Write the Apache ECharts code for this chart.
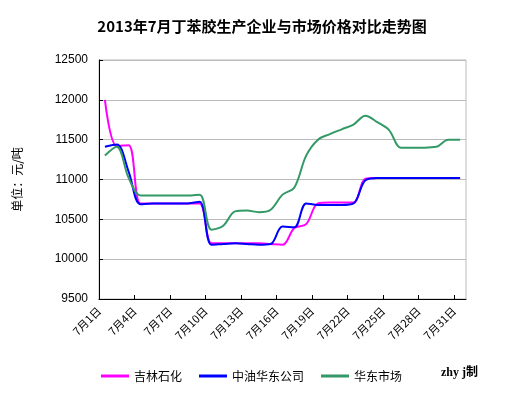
<!DOCTYPE html>
<html>
<head>
<meta charset="utf-8">
<script src="https://cdn.jsdelivr.net/npm/echarts@6/dist/echarts.min.js"></script>
<style>html,body{margin:0;padding:0;background:#fff}#c{width:524px;height:395px}</style>
</head>
<body>
<div id="c"></div>
<script>
var days = ['7月1日','7月2日','7月3日','7月4日','7月5日','7月6日','7月7日','7月8日','7月9日','7月10日',
  '7月11日','7月12日','7月13日','7月14日','7月15日','7月16日','7月17日','7月18日','7月19日','7月20日',
  '7月21日','7月22日','7月23日','7月24日','7月25日','7月26日','7月27日','7月28日','7月29日','7月30日','7月31日'];
var jilin = [12000,11420,11430,10700,10700,10700,10700,10700,10700,10200,
  10200,10200,10200,10200,10190,10180,10390,10440,10700,10710,
  10710,10710,11010,11020,11020,11020,11020,11020,11020,11020,11020];
var zhongyou = [11410,11440,11100,10690,10700,10700,10700,10700,10720,10180,
  10190,10200,10190,10180,10190,10410,10400,10700,10680,10680,
  10680,10700,10990,11020,11020,11020,11020,11020,11020,11020,11020];
var huadong = [11300,11410,11020,10800,10800,10800,10800,10800,10810,10370,
  10420,10600,10610,10590,10620,10810,10900,11300,11500,11570,
  11630,11690,11800,11720,11620,11400,11400,11400,11410,11500,11500];
var yTicks = [9500,10000,10500,11000,11500,12000,12500];
var seriesNames = ['吉林石化','中油华东公司','华东市场'];

function pts(arr){ return arr.map(function(v,i){ return [i+0.5, v]; }); }
var labelIdx = [];
for (var k = 0; k < days.length; k += 3) labelIdx.push(k);

var chart = echarts.init(document.getElementById('c'));
var cjk = '"Noto Sans CJK SC", "Liberation Sans", sans-serif';
chart.setOption({
  animation: false,
  backgroundColor: '#fff',
  title: {
    text: '2013年7月丁苯胶生产企业与市场价格对比走势图',
    left: 'center', top: 14,
    textStyle: { fontSize: 15, fontWeight: 'bold', color: '#000', fontFamily: cjk }
  },
  grid: { left: 99, right: 58, top: 60, bottom: 96, show: true, borderColor: '#bbb', borderWidth: 1 },
  legend: {
    left: 96, top: 365, itemGap: 17, itemWidth: 28, itemHeight: 3, icon: 'rect',
    textStyle: { fontSize: 12, color: '#000', fontFamily: cjk },
    data: seriesNames
  },
  graphic: [{
    type: 'text', left: 441, top: 367,
    style: { text: 'zhy j制', font: 'bold 12px "Liberation Serif", "Noto Sans CJK SC", serif', fill: '#000' }
  }],
  xAxis: {
    type: 'value', min: 0, max: 31,
    axisLine: { lineStyle: { color: '#000', width: 1 } },
    axisTick: { inside: true, length: 4, lineStyle: { color: '#000' }, customValues: labelIdx },
    axisLabel: {
      customValues: labelIdx, rotate: 45, margin: 10,
      fontSize: 11, color: '#000', fontFamily: cjk,
      formatter: function(v){ return days[Math.round(v)] || ''; }
    },
    splitLine: { show: false }
  },
  yAxis: {
    type: 'value', min: yTicks[0], max: yTicks[yTicks.length-1], interval: 500,
    name: '单位：元/吨', nameLocation: 'middle', nameRotate: 90, nameGap: 76,
    nameTextStyle: { fontSize: 12, color: '#000', fontFamily: cjk },
    axisLine: { show: true, lineStyle: { color: '#000', width: 1 } },
    axisTick: { show: true, inside: true, length: 4, lineStyle: { color: '#000' } },
    axisLabel: { fontSize: 12, color: '#000', margin: 11, fontFamily: '"Liberation Sans", Arial, sans-serif',
      formatter: function(v){ return String(v); } },
    splitLine: { show: true, lineStyle: { color: '#bbb', width: 1 } }
  },
  series: [
    { name: seriesNames[0], type: 'line', data: pts(jilin), smooth: 0.35, symbol: 'none',
      lineStyle: { color: '#ff00ff', width: 2 }, itemStyle: { color: '#ff00ff' }, z: 2 },
    { name: seriesNames[1], type: 'line', data: pts(zhongyou), smooth: 0.35, symbol: 'none',
      lineStyle: { color: '#0000ff', width: 2 }, itemStyle: { color: '#0000ff' }, z: 3 },
    { name: seriesNames[2], type: 'line', data: pts(huadong), smooth: 0.35, symbol: 'none',
      lineStyle: { color: '#339966', width: 2 }, itemStyle: { color: '#339966' }, z: 4 }
  ]
});
</script>
</body>
</html>
